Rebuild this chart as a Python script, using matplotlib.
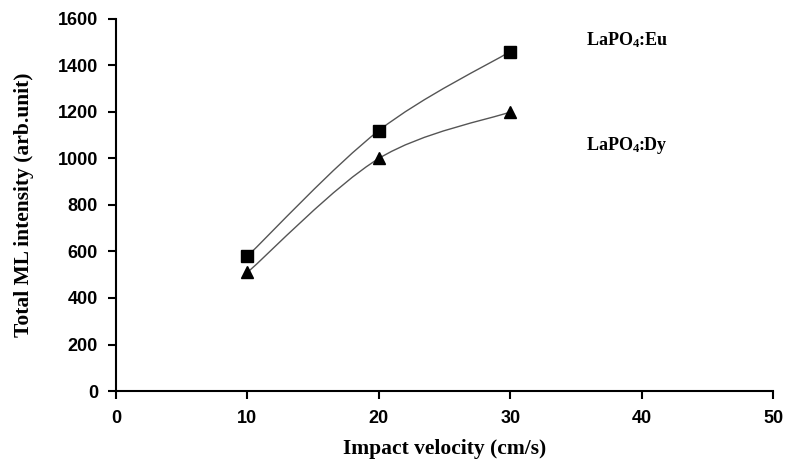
import numpy as np
import matplotlib.pyplot as plt
from matplotlib.path import Path
from matplotlib.patches import PathPatch

velocity = [10, 20, 30]
eu_intensity = [580, 1120, 1460]
dy_intensity = [510, 1000, 1200]

plt.rcParams['mathtext.fontset'] = 'custom'
plt.rcParams['mathtext.rm'] = 'Liberation Serif:bold'
plt.rcParams['mathtext.it'] = 'Liberation Serif:bold'
plt.rcParams['mathtext.bf'] = 'Liberation Serif:bold'


def smooth_path(x, y):
    # Excel-like smoothed line: Catmull-Rom converted to cubic Bezier segments
    pts = np.column_stack([x, y]).astype(float)
    ext = np.vstack([pts[0], pts, pts[-1]])
    verts = [pts[0]]
    codes = [Path.MOVETO]
    for i in range(len(pts) - 1):
        p0, p1, p2, p3 = ext[i], ext[i + 1], ext[i + 2], ext[i + 3]
        c1 = p1 + (p2 - p0) / 6.0
        c2 = p2 - (p3 - p1) / 6.0
        verts += [c1, c2, p2]
        codes += [Path.CURVE4] * 3
    return Path(verts, codes)


fig = plt.figure(figsize=(7.85, 4.66), dpi=100)
ax = fig.add_axes([116 / 785, 1 - 391 / 466, 657 / 785, 372 / 466])

for yy, mk, ms in [(eu_intensity, 's', 8), (dy_intensity, '^', 8.5)]:
    ax.add_patch(PathPatch(smooth_path(velocity, yy), facecolor='none',
                           edgecolor='#555555', lw=1.0))
    ax.plot(velocity, yy, linestyle='none', marker=mk, color='black', ms=ms)

ax.set_xlim(0, 50)
ax.set_ylim(0, 1600)
ax.set_xticks(range(0, 51, 10))
ax.set_yticks(range(0, 1601, 200))
ax.spines['top'].set_visible(False)
ax.spines['right'].set_visible(False)
ax.spines['left'].set_linewidth(1.5)
ax.spines['bottom'].set_linewidth(1.5)
ax.tick_params(direction='out', length=6, width=1.5)
ax.tick_params(axis='x', pad=8)
ax.tick_params(axis='y', pad=7)
ax.set_xticklabels([str(v) for v in range(0, 51, 10)], fontfamily='Liberation Sans',
                   fontweight='bold', fontsize=13)
ax.set_yticklabels([str(v) for v in range(0, 1601, 200)], fontfamily='Liberation Sans',
                   fontweight='bold', fontsize=13)

ax.set_xlabel('Impact velocity (cm/s)', fontfamily='Liberation Serif',
              fontweight='bold', fontsize=15.5, labelpad=8)
ax.set_ylabel('Total ML intensity (arb.unit)', fontfamily='Liberation Serif',
              fontweight='bold', fontsize=15.5, labelpad=17)

ax.text(35.8, 1510, 'LaPO$_4$:Eu', fontfamily='Liberation Serif', fontweight='bold',
        fontsize=13, ha='left', va='center')
ax.text(35.8, 1054, 'LaPO$_4$:Dy', fontfamily='Liberation Serif', fontweight='bold',
        fontsize=13, ha='left', va='center')

fig.savefig('out.png', dpi=100)
